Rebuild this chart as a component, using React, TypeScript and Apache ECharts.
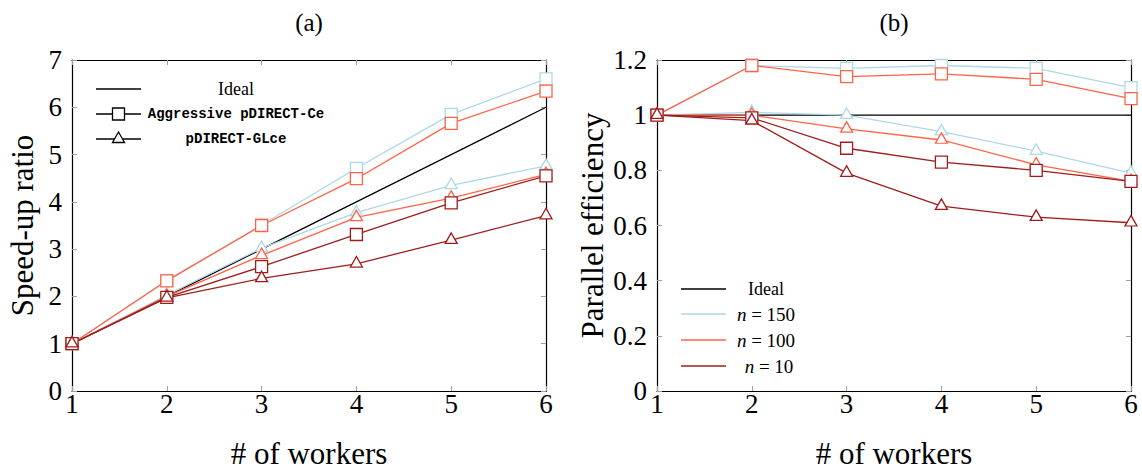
import React, { useEffect, useRef } from "react";
import * as echarts from "echarts";

const workers = [1, 2, 3, 4, 5, 6];

const speedupIdeal = [1, 2, 3, 4, 5, 6];
const speedupAggr150 = [1, 2.34, 3.51, 4.71, 5.85, 6.6];
const speedupAggr100 = [1, 2.33, 3.5, 4.49, 5.66, 6.34];
const speedupAggr10 = [1, 1.98, 2.63, 3.31, 3.98, 4.55];
const speedupGl150 = [1, 2.03, 3.02, 3.77, 4.35, 4.76];
const speedupGl100 = [1, 2.0, 2.87, 3.67, 4.08, 4.58];
const speedupGl10 = [1, 1.97, 2.38, 2.69, 3.19, 3.71];

const effIdeal = [1, 1, 1, 1, 1, 1];
const effAggr150 = [1, 1.18, 1.17, 1.18, 1.17, 1.1];
const effAggr100 = [1, 1.18, 1.14, 1.15, 1.13, 1.06];
const effAggr10 = [1, 0.99, 0.88, 0.83, 0.8, 0.76];
const effGl150 = [1, 1.01, 1.0, 0.94, 0.87, 0.79];
const effGl100 = [1, 1.0, 0.95, 0.91, 0.82, 0.76];
const effGl10 = [1, 0.98, 0.79, 0.67, 0.63, 0.61];

const panelTitles = ["(a)", "(b)"];
const yNames = ["Speed-up ratio", "Parallel efficiency"];
const xName = "# of workers";
const legendA = ["Ideal", "Aggressive pDIRECT-Ce", "pDIRECT-GLce"];
const legendB = ["Ideal", "150", "100", "10"];

const C150 = "#add8e6";
const C100 = "#ff6347";
const C10 = "#a01c1c";
const SERIF = "'Liberation Serif', serif";
const MONO = "'Liberation Mono', monospace";
const TICK_GRAY = "#a0a0a0";

function lineSeries(name: string, gi: number, vals: number[], color: string, kind: "none" | "sq" | "tri") {
  const base: any = {
    type: "line",
    name,
    xAxisIndex: gi * 2,
    yAxisIndex: gi * 2,
    data: workers.map((w, i) => [w, vals[i]]),
    clip: false,
    lineStyle: { color, width: 1.3 },
    emphasis: { disabled: true },
  };
  if (kind === "none") {
    base.symbol = "none";
  } else if (kind === "sq") {
    base.symbol = "rect";
    base.symbolSize = 12;
    base.itemStyle = { color: "#fff", borderColor: color, borderWidth: 1.3 };
  } else {
    base.symbol = "triangle";
    base.symbolSize = [12, 10.5];
    base.symbolOffset = [0, -2];
    base.itemStyle = { color: "#fff", borderColor: color, borderWidth: 1.3 };
  }
  return base;
}

function axesFor(gi: number) {
  const tick = { show: true, inside: true, length: 5, lineStyle: { color: TICK_GRAY, width: 1 } };
  const axLine = { show: true, onZero: false, lineStyle: { color: "#000", width: 1.2 } };
  const isA = gi === 0;
  const yMax = isA ? 7 : 1.2;
  const yInt = isA ? 1 : 0.2;
  const xAxes = [
    {
      gridIndex: gi, type: "value", min: 1, max: 6, interval: 1, position: "bottom",
      axisLine: axLine, axisTick: tick, splitLine: { show: false },
      axisLabel: { fontFamily: SERIF, fontSize: 27, color: "#000", margin: -1 },
      name: xName, nameLocation: "middle", nameGap: 47,
      nameTextStyle: { fontFamily: SERIF, fontSize: 31, color: "#000" },
    },
    {
      gridIndex: gi, type: "value", min: 1, max: 6, interval: 1, position: "top",
      axisLine: axLine, axisTick: tick, splitLine: { show: false }, axisLabel: { show: false },
    },
  ];
  const yAxes = [
    {
      gridIndex: gi, type: "value", min: 0, max: yMax, interval: yInt, position: "left",
      axisLine: axLine, axisTick: tick, splitLine: { show: false },
      axisLabel: {
        fontFamily: SERIF, fontSize: 27, color: "#000", margin: 10,
        formatter: (v: number) => String(+v.toFixed(1)),
      },
      name: yNames[gi], nameLocation: "middle", nameGap: isA ? 34 : 49,
      nameTextStyle: { fontFamily: SERIF, fontSize: 31, color: "#000" },
    },
    {
      gridIndex: gi, type: "value", min: 0, max: yMax, interval: yInt, position: "right",
      axisLine: axLine, axisTick: tick, splitLine: { show: false }, axisLabel: { show: false },
    },
  ];
  return { xAxes, yAxes };
}

function legendGraphics() {
  const els: any[] = [];
  const lw = 1.3;
  // panel (a)
  const aRows = [89, 114, 139];
  const ax1 = 96, ax2 = 141, amx = 118.5, atx = 236;
  aRows.forEach((y, i) => {
    els.push({ type: "line", shape: { x1: ax1, y1: y, x2: ax2, y2: y }, style: { stroke: "#000", lineWidth: lw } });
    if (i === 1) {
      els.push({ type: "rect", shape: { x: amx - 6, y: y - 6, width: 12, height: 12 }, style: { fill: "#fff", stroke: "#000", lineWidth: lw } });
    }
    if (i === 2) {
      els.push({ type: "polygon", shape: { points: [[amx, y - 7], [amx - 6, y + 3.5], [amx + 6, y + 3.5]] }, style: { fill: "#fff", stroke: "#000", lineWidth: lw } });
    }
    els.push({
      type: "text", x: atx, y,
      style: i === 0
        ? { text: legendA[i], align: "center", verticalAlign: "middle", fontFamily: SERIF, fontSize: 18, fill: "#000" }
        : { text: legendA[i], align: "center", verticalAlign: "middle", fontFamily: MONO, fontSize: 14, fontWeight: "bold", fill: "#000" },
    });
  });
  // panel (b)
  const bRows = [289, 314, 340, 366];
  const bColors = ["#000", C150, C100, C10];
  const bx1 = 681, bx2 = 726, btx = 766;
  bRows.forEach((y, i) => {
    els.push({ type: "line", shape: { x1: bx1, y1: y, x2: bx2, y2: y }, style: { stroke: bColors[i], lineWidth: lw } });
    if (i === 0) {
      els.push({ type: "text", x: btx, y, style: { text: legendB[0], align: "center", verticalAlign: "middle", fontFamily: SERIF, fontSize: 18, fill: "#000" } });
    } else {
      els.push({
        type: "text", x: btx + (i === 3 ? 3 : 0), y,
        style: {
          text: "{i|n} = " + legendB[i], align: "center", verticalAlign: "middle",
          fontFamily: SERIF, fontSize: 19, fill: "#000",
          rich: { i: { fontFamily: SERIF, fontStyle: "italic", fontSize: 19, fill: "#000" } },
        },
      });
    }
  });
  // panel titles
  els.push({ type: "text", x: 309, y: 22, style: { text: panelTitles[0], align: "center", verticalAlign: "middle", fontFamily: SERIF, fontSize: 25, fill: "#000" } });
  els.push({ type: "text", x: 894, y: 22, style: { text: panelTitles[1], align: "center", verticalAlign: "middle", fontFamily: SERIF, fontSize: 25, fill: "#000" } });
  return els;
}

export default function App() {
  const ref = useRef<HTMLDivElement>(null);
  useEffect(() => {
    if (!ref.current) return;
    const chart = echarts.init(ref.current, undefined, { renderer: "svg" });
    const a = axesFor(0);
    const b = axesFor(1);
    const series = [
      lineSeries("Ideal", 0, speedupIdeal, "#000", "none"),
      lineSeries("Aggr n=150", 0, speedupAggr150, C150, "sq"),
      lineSeries("GL n=150", 0, speedupGl150, C150, "tri"),
      lineSeries("Aggr n=100", 0, speedupAggr100, C100, "sq"),
      lineSeries("GL n=100", 0, speedupGl100, C100, "tri"),
      lineSeries("Aggr n=10", 0, speedupAggr10, C10, "sq"),
      lineSeries("GL n=10", 0, speedupGl10, C10, "tri"),
      lineSeries("Ideal", 1, effIdeal, "#000", "none"),
      lineSeries("Aggr n=150", 1, effAggr150, C150, "sq"),
      lineSeries("GL n=150", 1, effGl150, C150, "tri"),
      lineSeries("Aggr n=100", 1, effAggr100, C100, "sq"),
      lineSeries("GL n=100", 1, effGl100, C100, "tri"),
      lineSeries("Aggr n=10", 1, effAggr10, C10, "sq"),
      lineSeries("GL n=10", 1, effGl10, C10, "tri"),
    ];
    chart.setOption({
      animation: false,
      backgroundColor: "#fff",
      grid: [
        { left: 72, top: 60, width: 474, height: 334 },
        { left: 657, top: 60, width: 474, height: 334 },
      ],
      xAxis: [...a.xAxes, ...b.xAxes],
      yAxis: [...a.yAxes, ...b.yAxes],
      series,
      graphic: legendGraphics(),
    });
    return () => chart.dispose();
  }, []);
  return <div ref={ref} style={{ position: "fixed", left: 0, top: 0, width: 1142, height: 474 }} />;
}
